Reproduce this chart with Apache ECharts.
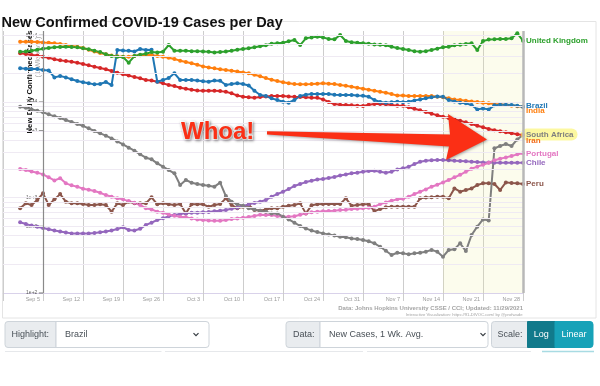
<!DOCTYPE html>
<html><head><meta charset="utf-8">
<script src="https://cdn.jsdelivr.net/npm/echarts@6/dist/echarts.min.js"></script>
<style>html,body{margin:0;padding:0;background:#fff}#c{width:600px;height:386px}</style>
</head><body><div id="c"></div>
<script>
const FONT = '"Liberation Sans", Arial, Helvetica, sans-serif';
const chartTitle = 'New Confirmed COVID-19 Cases per Day';
const yAxisTitle = 'New Daily Confirmed Cases';
const yAxisSubtitle = '(1 Wk. Avg.)';
const sourceText = 'Data: Johns Hopkins University CSSE / CCI; Updated: 11/29/2021';
const creditText = 'Interactive Visualization: https://91-DIVOC.com/ by @profwade';
const firstDataDate = '2021-09-01';
const firstTickDate = '2021-09-05';
const lastDate = '2021-11-28';
const highlightFrom = '2021-11-14';
const xTickLabels = ['Sep 5','Sep 12','Sep 19','Sep 26','Oct 3','Oct 10','Oct 17','Oct 24','Oct 31','Nov 7','Nov 14','Nov 21','Nov 28'];
const yTickValues = [50000, 10000, 5000, 1000, 500, 100];
const yTickLabels = ['5e+4','1e+4','5e+3','1e+3','5e+2','1e+2'];
const gridValues = [200,300,400,500,600,700,800,900,1000,2000,3000,4000,5000,6000,7000,8000,9000,10000,20000,30000,40000,50000];

const countries = ['United Kingdom','Brazil','India','South Africa','Iran','Portugal','Chile','Peru'];
const colors = ['#2ca02c','#1f77b4','#ff7f0e','#7f7f7f','#d62728','#e377c2','#9467bd','#8c564b'];
const labelColors = ['#2ca02c','#1f77b4','#ff7f0e','#7f7f7f','#f26b1d','#e377c2','#9467bd','#8c564b'];

const ukCases = [33500,33800,34400,35300,36200, 36800,37400,37700,37950,37700, 37400,36500,35600,34400,33300, 31600,30300,29830,29600,25800, 30300,31300,32000,33300,33000, 33600,39500,34400,34400,34400, 34100,34100,33800,33500,33000, 33300,33800,34400,35300,35900, 36500,37400,38300,39300,40800, 41140,41800,43200,44580,39500, 46400,47500,48300,47500,45700, 45300,50300,43500,42200,41800, 41140,40800,40100,39800,39200, 37950,36800,35900,35030,34100, 33500,34100,35030,36200,37400, 37950,39300,39800,40400,41140, 35030,43500,45000,45300,45700, 45700,46400,52360,43900];
const brazilCases = [22500,22300,22100,22100,21630, 21370,18100,18700,18100,17300, 16600,16100,15680,15300,15450, 16200,15050,35030,34700,34400, 33800,35900,35030,35300,16300, 17000,17800,19960,17000,17000, 17000,16800,16500,16300,16800, 16700,15050,15400,15680,15400, 14900,13100,11850,11550,10920, 10490,10080,9840,10490,11550, 11930,12120,12120,12120,12120, 11930,11850,11850,11850,11700, 11650,11370,10490,10000,9840, 9920,10080,9920,10080,10400, 10650,10920,11200,11450,11370, 10490,10150,9840,9680,9300, 8370,8570,8370,9220,9380, 9380,9300,9150,8930];
const indiaCases = [42800,42800,42800,42500,42100, 41800,41140,40400,39500,38600, 37950,36800,35300,33800,32600, 31600,30600,30100,29830,29830, 30300,30900,31300,31100,30300, 29830,29100,28200,27100,26200, 25400,24600,23600,23000,22500, 22000,21630,21300,20900,20400, 19960,19300,18600,17800,17100, 16600,16100,15680,15400,15300, 15300,15400,15550,15680,15550, 15400,15100,14800,14470,14100, 13800,13450,13100,12800,12500, 12100,11700,11700,11550,11550, 11550,11550,11550,11370,11200, 10920,10650,10490,10330,10150, 10000,9840,9680,9520,9450, 9300,9150,9000,8930];
const southAfricaCases = [8930,8720,8370,8100,7800, 7430,7080,6800,6480,6180, 5880,5630,5300,4970,4700, 4440,4160,3870,3600,3320, 3090,2830,2610,2510,2280, 2100,1940,1790,1350,1525, 1430,1385,1350,1330,1298, 1430,1035,904,848,822, 770,750,728,710,682, 682,630,590,545,503, 475,450,435,421,411, 401,389,383,373,367, 359,348,331,305,277, 250,264,260,255,260, 264,271,282,271,240, 282,287,331,275,405, 495,590,574,3270,3460, 3630,3460,4060,4510];
const iranCases = [32330,31800,31000,30600,29830, 29100,28000,27300,26800,26400, 25800,25000,24200,23440,22700, 22000,21100,20300,19500,18900, 18300,17700,17000,16800,16300, 15680,15100,14700,14100,13800, 13450,13200,13100,13100,13100, 13000,12800,12320,11700,11370, 11200,11100,11300,11450,11550, 11550,11550,11450,11370,11300, 11200,11100,11100,10650,10000, 9520,9380,9300,9220,9150, 9070,9380,9520,9520,9450, 9300,9150,9150,8790,8500, 8180,7860,7550,7260,7020, 6800,6580,6380,6120,5880, 5650,5430,5210,5050,4930, 4820,4700,4590,4520];
const portugalCases = [1985,1940,1870,1820,1745, 1625,1510,1590,1407,1340, 1298,1235,1208,1170,1120, 1060,1020,980,956,917, 880,835,770,750,710, 693,665,645,630,620, 603,590,581,576,572, 572,581,594,603,612, 625,640,660,655,655, 640,630,630,635,660, 682,700,710,716,722, 728,739,745,757,763, 770,783,801,854,888, 925,956,970,1020,1085, 1150,1215,1298,1360,1440, 1525,1625,1730,1865,2000, 2103,2205,2315,2450,2545, 2630,2720,2830,2900];
const chileCases = [550,528,508,495,480, 465,451,441,430,421, 421,421,421,425,432, 441,451,468,488,457, 451,470,515,545,581, 608,635,655,672,682, 693,693,700,705,716, 728,739,763,783,815, 848,875,904,941,1020, 1085,1150,1225,1320,1385, 1450,1500,1540,1565,1600, 1640,1700,1745,1790,1820, 1865,1895,1910,1865,1820, 1865,1970,2020,2103,2240, 2370,2430,2450,2470,2470, 2450,2430,2410,2390,2370, 2350,2330,2330,2315,2315, 2315,2315,2315,2315];
const peruCases = [770,868,835,941,1105, 835,956,1085,904,868, 868,854,835,835,848, 835,710,868,835,904, 868,868,868,1005,848, 868,848,835,854,682, 848,848,848,801,835, 854,980,835,770,801, 835,739,728,750,770, 770,801,822,835,868, 682,828,848,854,854, 854,854,980,822,835, 848,848,721,757,790, 801,801,801,801,801, 980,998,1005,1020,1020, 980,1245,1150,1198,1245, 1350,1407,1407,1385,1198, 1440,1415,1407,1385];
const seriesValues = [ukCases, brazilCases, indiaCases, southAfricaCases, iranCases, portugalCases, chileCases, peruCases];

const DAY = 86400000;
const dayOf = d => Math.round((Date.parse(d) - Date.parse(firstTickDate)) / DAY);
const firstDay = dayOf(firstDataDate);
const lastDay = dayOf(lastDate);
const hlDay = dayOf(highlightFrom);

const labelOffsets = {'United Kingdom':[0,0],'Brazil':[0,-1],'India':[0,4.5],'South Africa':[0,-0.5],'Iran':[0,5.5],'Portugal':[0,0],'Chile':[0,0],'Peru':[0,0]};
const drawOrder = [7,6,5,3,4,2,1,0];

const series = [{
  type: 'line', data: [], silent: true, z: 1,
  markArea: { silent: true, itemStyle: { color: 'rgba(240,240,150,0.17)' }, data: [[{ xAxis: hlDay }, { xAxis: lastDay }]] },
  markLine: {
    silent: true, symbol: ['none', 'none'], animation: false,
    label: { show: false },
    lineStyle: { color: '#efeaf3', width: 1, type: 'solid' },
    data: gridValues.map(v => ({ yAxis: v }))
  }
}, {
  type: 'line', data: [], silent: true, z: 1,
  markLine: {
    silent: true, symbol: ['none', 'none'], animation: false, label: { show: false },
    lineStyle: { color: '#8a8a8a', width: 1.2, type: 'solid' },
    data: [{ xAxis: 0 }]
  }
}, {
  type: 'line', data: [], silent: true, z: 1,
  markLine: {
    silent: true, symbol: ['none', 'none'], animation: false, label: { show: false },
    lineStyle: { color: '#b8b8b8', width: 2.5, type: 'solid' },
    data: [{ xAxis: lastDay }]
  }
}, {
  type: 'scatter', silent: true, z: 2,
  data: yTickValues.map(v => [-0.36, v]),
  symbol: 'rect', symbolSize: [4.2, 1],
  itemStyle: { color: '#555' },
  label: { show: true, position: 'left', distance: 1.5, fontSize: 5, color: '#333', fontFamily: FONT, formatter: p => yTickLabels[p.dataIndex] },
  emphasis: { disabled: true }
}];

drawOrder.forEach(k => {
  const name = countries[k];
  const isSA = name === 'South Africa';
  series.push({
    type: 'line', name, z: 3,
    data: seriesValues[k].map((v, i) => [firstDay + i, v]),
    symbol: 'circle', symbolSize: 4, showSymbol: true,
    lineStyle: { width: 2, color: colors[k] },
    itemStyle: { color: colors[k] },
    emphasis: { disabled: true },
    endLabel: {
      show: true, formatter: name, color: labelColors[k], fontSize: 8, fontWeight: 'bold', fontFamily: FONT,
      offset: labelOffsets[name], distance: isSA ? -2.3 : 3,
      backgroundColor: isSA ? 'rgba(250,245,110,0.65)' : 'transparent',
      borderRadius: isSA ? 6 : 0,
      padding: isSA ? [2, 4, 2, 5.3] : 0
    }
  });
});

const txt = (text, x, y, size, color, extra) => Object.assign({
  type: 'text', x, y, silent: true,
  style: Object.assign({ text, fontSize: size, fontFamily: FONT, fill: color, align: 'left', verticalAlign: 'middle' }, extra || {})
});
const rect = (x, y, w, h, fill, stroke, r) => ({ type: 'rect', silent: true, shape: { x, y, width: w, height: h, r: r || 0 }, style: { fill, stroke, lineWidth: 1 } });
const chevron = (cx, cy) => ({ type: 'polyline', silent: true, shape: { points: [[cx - 2.5, cy - 1.3], [cx, cy + 1.2], [cx + 2.5, cy - 1.3]] }, style: { stroke: '#343a40', lineWidth: 1.2, fill: 'none' } });

const graphics = [
  { type: 'rect', silent: true, z: -10, shape: { x: 2.5, y: 21.5, width: 593.5, height: 296.5 }, style: { fill: 'none', stroke: '#e4e4e4', lineWidth: 1 } },
  txt(chartTitle, 1.5, 15, 14.5, '#111', { fontWeight: 'bold', verticalAlign: 'alphabetic' }),
  Object.assign(txt(yAxisTitle, 30, 82, 7.8, '#111', { align: 'center', fontWeight: 'bold' }), { rotation: Math.PI / 2, z: 0 }),
  Object.assign(txt(yAxisSubtitle, 38.3, 57, 7.5, '#aaa', { align: 'center' }), { rotation: Math.PI / 2, z: 0 }),
  txt(sourceText, 523, 308.5, 6, '#a4a4a4', { align: 'right', fontWeight: 'bold' }),
  txt(creditText, 522.5, 315, 4.2, '#a4a4a4', { align: 'right' }),
  { type: 'polygon', silent: true, z: 100, shape: { points: [[267, 131.2], [450, 134.5], [448, 114], [487, 139.5], [446, 160], [449, 146.5], [267, 134.6]] },
    style: { fill: '#fb2f15', shadowBlur: 3, shadowColor: 'rgba(0,0,0,0.35)', shadowOffsetX: 1, shadowOffsetY: 1 } },
  Object.assign(txt('Whoa!', 181, 132, 24, '#fb2f15', { fontWeight: 'bold', stroke: '#fff', lineWidth: 2, textShadowBlur: 3, textShadowColor: 'rgba(0,0,0,0.35)', textShadowOffsetX: 1, textShadowOffsetY: 1 }), { z: 100 }),
  rect(5, 321.5, 51, 26, '#e9ecef', '#ced4da', [3, 0, 0, 3]),
  rect(56, 321.5, 153, 26, '#fff', '#ced4da', [0, 3, 3, 0]),
  txt('Highlight:', 11.5, 334.5, 9, '#495057'),
  txt('Brazil', 65, 334.5, 9, '#495057'),
  chevron(196, 334.5),
  rect(286, 321.5, 34, 26, '#e9ecef', '#ced4da', [3, 0, 0, 3]),
  rect(320, 321.5, 168, 26, '#fff', '#ced4da', [0, 3, 3, 0]),
  txt('Data:', 293, 334.5, 9, '#495057'),
  txt('New Cases, 1 Wk. Avg.', 329, 334.5, 9, '#495057'),
  chevron(483, 334.5),
  rect(491.5, 321.5, 36, 26, '#e9ecef', '#ced4da', [3, 0, 0, 3]),
  txt('Scale:', 497.5, 334.5, 9, '#495057'),
  rect(527.5, 321.5, 27.5, 26, '#117a8b', '#117a8b', 0),
  rect(555, 321.5, 38, 26, '#17a2b8', '#17a2b8', [0, 3, 3, 0]),
  txt('Log', 541.3, 334.5, 9, '#fff', { align: 'center' }),
  txt('Linear', 574, 334.5, 9, '#fff', { align: 'center' }),
  { type: 'line', silent: true, shape: { x1: 5, y1: 351.5, x2: 161.5, y2: 351.5 }, style: { stroke: '#e6e8eb', lineWidth: 1 } },
  { type: 'line', silent: true, shape: { x1: 165, y1: 351.5, x2: 363, y2: 351.5 }, style: { stroke: '#e6e8eb', lineWidth: 1 } },
  { type: 'line', silent: true, shape: { x1: 367, y1: 351.5, x2: 531, y2: 351.5 }, style: { stroke: '#e6e8eb', lineWidth: 1 } },
  { type: 'line', silent: true, shape: { x1: 542, y1: 351.5, x2: 594, y2: 351.5 }, style: { stroke: '#a8dbe3', lineWidth: 1.5 } }
];

const chart = echarts.init(document.getElementById('c'), null, { renderer: 'canvas' });
chart.setOption({
  animation: false,
  backgroundColor: '#fff',
  grid: { left: -17.58, right: 77, top: 31, bottom: 93, containLabel: false },
  xAxis: {
    type: 'value', min: -7, max: lastDay, interval: 7,
    axisLine: { show: true, lineStyle: { color: '#d9d2ea', width: 1 } },
    axisTick: { show: true, length: 8, lineStyle: { color: '#cdcdcd' } },
    splitLine: { show: true, lineStyle: { color: '#cdcdcd', width: 1 } },
    axisLabel: {
      formatter: v => (v < 0 ? '' : (xTickLabels[Math.round(v / 7)] || '')),
      fontSize: 5.5, color: '#9a9a9a', fontFamily: FONT, align: 'right', margin: 3, padding: [0, 3, 0, 0], hideOverlap: false
    }
  },
  yAxis: {
    type: 'log', logBase: 10, min: 100, max: 55400,
    axisLine: { show: false }, axisTick: { show: false }, axisLabel: { show: false }, splitLine: { show: false }
  },
  graphic: { elements: graphics },
  series
});
</script></body></html>
